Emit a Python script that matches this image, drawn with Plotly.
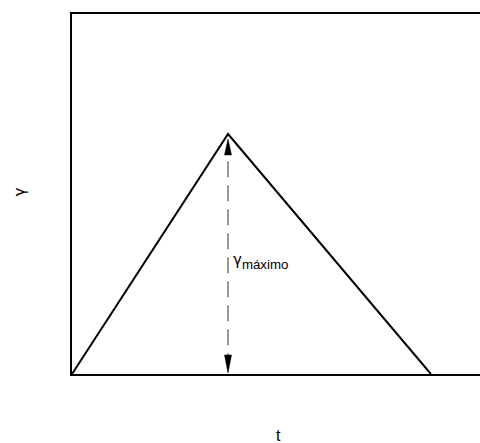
import plotly.graph_objects as go

# Data
t_vals = [0.0, 1.0, 2.3]
gamma_vals = [0.0, 1.0, 0.0]
t_peak = t_vals[1]
gamma_max = gamma_vals[1]

x_range = [0, 2.615]
y_range = [0, 1.5]

FONT = "Liberation Sans, Arial, sans-serif"
GFONT = "DejaVu Sans, sans-serif"

fig = go.Figure()

# triangle
fig.add_trace(go.Scatter(x=t_vals, y=gamma_vals, mode="lines",
                         line=dict(color="black", width=2), hoverinfo="skip",
                         showlegend=False))

# dashed vertical line
fig.add_trace(go.Scatter(x=[t_peak, t_peak], y=[0.02, gamma_max - 0.05], mode="lines",
                         line=dict(color="#555555", width=1.2, dash="16px,8px"),
                         hoverinfo="skip", showlegend=False))

shapes = [
    dict(type="path", xref="x", yref="y", xsizemode="pixel", ysizemode="pixel",
         xanchor=t_peak, yanchor=gamma_max,
         path="M 0,-5 L -3.5,-21 L 3.5,-21 Z",
         fillcolor="black", line=dict(color="black", width=0.5)),
    dict(type="path", xref="x", yref="y", xsizemode="pixel", ysizemode="pixel",
         xanchor=t_peak, yanchor=0,
         path="M 0,1 L -3.5,19 L 3.5,19 Z",
         fillcolor="black", line=dict(color="black", width=0.5)),
]

annotations = [
    dict(x=t_peak, y=gamma_max * 0.467, xref="x", yref="y", xanchor="left", yanchor="middle",
         xshift=3, showarrow=False,
         text="<span style='font-family:DejaVu Sans;font-size:15px'>γ</span><sub>máximo</sub>",
         font=dict(family=FONT, size=19, color="black")),
    dict(x=0.505, y=-0.172, xref="paper", yref="paper", xanchor="center", yanchor="middle",
         showarrow=False, text="t", font=dict(family=FONT, size=16, color="black")),
    dict(x=-0.127, y=0.505, xref="paper", yref="paper", xanchor="center", yanchor="middle",
         showarrow=False, text="γ", textangle=-90,
         font=dict(family=GFONT, size=15, color="black")),
]

fig.update_layout(
    width=480, height=443,
    margin=dict(l=72, r=0, t=14, b=69),
    paper_bgcolor="white", plot_bgcolor="white",
    shapes=shapes, annotations=annotations,
    xaxis=dict(range=x_range, showgrid=False, zeroline=False, showticklabels=False,
               ticks="", showline=True, mirror=True, linecolor="black", linewidth=1.5),
    yaxis=dict(range=y_range, showgrid=False, zeroline=False, showticklabels=False,
               ticks="", showline=True, mirror=False, linecolor="black", linewidth=1.5),
)

fig.write_html(
    "out.html",
    config={"displayModeBar": False},
    post_script="document.body.style.margin='0';"
                "document.documentElement.style.overflow='hidden';",
)
